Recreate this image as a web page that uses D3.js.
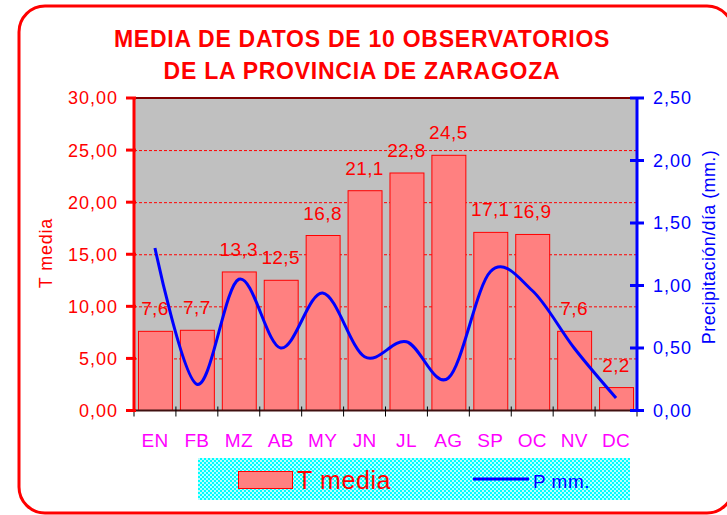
<!DOCTYPE html>
<meta charset="utf-8">
<html>
<head>
<title>Media de datos</title>
<style>
  body { margin: 0; background: #fff; }
  text { font-family: "Liberation Sans", Arial, sans-serif; }
</style>
<script src="https://cdn.jsdelivr.net/npm/d3@7"></script>
</head>
<body>
<script>
// data
var months = ["EN","FB","MZ","AB","MY","JN","JL","AG","SP","OC","NV","DC"]
var tMedia = [7.6, 7.7, 13.3, 12.5, 16.8, 21.1, 22.8, 24.5, 17.1, 16.9, 7.6, 2.2]
var precip = [1.30, 0.21, 1.05, 0.50, 0.94, 0.43, 0.55, 0.26, 1.11, 0.96, 0.50, 0.10]
var leftTicks = [0, 5, 10, 15, 20, 25, 30]
var rightTicks = [0, 0.5, 1, 1.5, 2, 2.5]

var W = 727, H = 515
var plot = {left: 134, right: 637, top: 98, bottom: 410.5}

var svg = d3.select("body").append("svg")
    .attr("width", W).attr("height", H)

var fmt = function(v){ return d3.format(".2f")(v).replace(".", ",") }

// outer rounded frame
svg.append("rect")
    .attr("x", 19).attr("y", 6)
    .attr("width", 714).attr("height", 507)
    .attr("rx", 26)
    .attr("fill", "none")
    .attr("stroke", "#ff0000")
    .attr("stroke-width", 3)

// title
var title = svg.append("text")
    .attr("text-anchor", "middle")
    .attr("fill", "#ff0000")
    .style("font-weight", "bold")
    .style("font-size", "23px")
    .style("letter-spacing", "0.75px")
title.append("tspan").attr("x", 362).attr("y", 47).text("MEDIA DE DATOS DE 10 OBSERVATORIOS")
title.append("tspan").attr("x", 362).attr("y", 78.5).text("DE LA PROVINCIA DE ZARAGOZA")

var x = d3.scaleBand().domain(months)
    .range([plot.left, plot.right])
    .paddingInner(0.19).paddingOuter(0.095)
var yL = d3.scaleLinear().domain([0, 30]).range([plot.bottom, plot.top])
var yR = d3.scaleLinear().domain([0, 2.5]).range([plot.bottom, plot.top])

// plot background
svg.append("rect")
    .attr("x", plot.left).attr("y", plot.top)
    .attr("width", plot.right - plot.left).attr("height", plot.bottom - plot.top)
    .attr("fill", "#c0c0c0")

// gridlines
svg.selectAll("line.grid")
    .data(leftTicks.filter(d => d > 0 && d < 30))
    .enter().append("line")
    .attr("class", "grid")
    .attr("x1", plot.left).attr("x2", plot.right)
    .attr("y1", d => yL(d) + 0.5).attr("y2", d => yL(d) + 0.5)
    .attr("stroke", "#ff0000")
    .attr("stroke-width", 1)
    .attr("stroke-dasharray", "3,2")

// bars
svg.selectAll("rect.bar")
    .data(tMedia)
    .enter().append("rect")
    .attr("class", "bar")
    .attr("x", (d,i) => x(months[i]) + 0.5)
    .attr("y", d => yL(d))
    .attr("width", x.bandwidth())
    .attr("height", d => plot.bottom - yL(d))
    .attr("fill", "#ff8080")
    .attr("stroke", "#ff0000")
    .attr("stroke-width", 1)

// value labels
svg.selectAll("text.val")
    .data(tMedia)
    .enter().append("text")
    .attr("class", "val")
    .attr("x", (d,i) => x(months[i]) + x.bandwidth()/2)
    .attr("y", d => yL(d) - 16)
    .attr("text-anchor", "middle")
    .attr("fill", "#ff0000")
    .style("font-size", "19px")
    .style("letter-spacing", "0.4px")
    .text(d => d3.format(".1f")(d).replace(".", ","))

// top and bottom frame lines
svg.append("line")
    .attr("x1", plot.left).attr("x2", plot.right)
    .attr("y1", plot.top).attr("y2", plot.top)
    .attr("stroke", "#800000").attr("stroke-width", 2)
svg.append("line")
    .attr("x1", plot.left).attr("x2", plot.right)
    .attr("y1", plot.bottom).attr("y2", plot.bottom)
    .attr("stroke", "#401010").attr("stroke-width", 2)

// category ticks
var bounds = d3.range(months.length + 1).map(i => plot.left + i * (plot.right - plot.left) / months.length)
svg.selectAll("line.xtick")
    .data(bounds)
    .enter().append("line")
    .attr("class", "xtick")
    .attr("x1", d => d).attr("x2", d => d)
    .attr("y1", plot.bottom - 4).attr("y2", plot.bottom + 6)
    .attr("stroke", "#000").attr("stroke-width", 1)

// category labels
svg.selectAll("text.cat")
    .data(months)
    .enter().append("text")
    .attr("class", "cat")
    .attr("x", d => x(d) + x.bandwidth()/2)
    .attr("y", 447)
    .attr("text-anchor", "middle")
    .attr("fill", "#ff00ff")
    .style("font-size", "19px")
    .style("letter-spacing", "0.3px")
    .text(d => d)

// precipitation line
var line = d3.line()
    .x((d,i) => x(months[i]) + x.bandwidth()/2)
    .y(d => yR(d))
    .curve(d3.curveCatmullRom.alpha(0))
svg.append("path")
    .datum(precip)
    .attr("d", line)
    .attr("fill", "none")
    .attr("stroke", "#0000ff")
    .attr("stroke-width", 3)

// left axis
var leftAxis = svg.append("g")
leftAxis.append("line")
    .attr("x1", plot.left).attr("x2", plot.left)
    .attr("y1", plot.top).attr("y2", plot.bottom)
    .attr("stroke", "#ff0000").attr("stroke-width", 3)
leftAxis.selectAll("line.lt")
    .data(leftTicks)
    .enter().append("line")
    .attr("class", "lt")
    .attr("x1", plot.left - 8).attr("x2", plot.left + 2)
    .attr("y1", d => yL(d)).attr("y2", d => yL(d))
    .attr("stroke", "#ff0000").attr("stroke-width", 3)
leftAxis.selectAll("text")
    .data(leftTicks)
    .enter().append("text")
    .attr("x", 118)
    .attr("y", d => yL(d))
    .attr("dy", "0.36em")
    .attr("text-anchor", "end")
    .attr("fill", "#ff0000")
    .style("font-size", "18px")
    .style("letter-spacing", "1px")
    .text(fmt)

// right axis
var rightAxis = svg.append("g")
rightAxis.append("line")
    .attr("x1", plot.right).attr("x2", plot.right)
    .attr("y1", plot.top).attr("y2", plot.bottom)
    .attr("stroke", "#0000ff").attr("stroke-width", 3)
rightAxis.selectAll("line.rt")
    .data(rightTicks)
    .enter().append("line")
    .attr("class", "rt")
    .attr("x1", plot.right - 7).attr("x2", plot.right + 7)
    .attr("y1", d => yR(d)).attr("y2", d => yR(d))
    .attr("stroke", "#0000ff").attr("stroke-width", 3)
rightAxis.selectAll("text")
    .data(rightTicks)
    .enter().append("text")
    .attr("x", 653)
    .attr("y", d => yR(d))
    .attr("dy", "0.36em")
    .attr("fill", "#0000ff")
    .style("font-size", "18px")
    .style("letter-spacing", "1px")
    .text(fmt)

// axis titles
svg.append("text")
    .attr("transform", "translate(52,253) rotate(-90)")
    .attr("text-anchor", "middle")
    .attr("fill", "#ff0000")
    .style("font-size", "18px")
    .style("letter-spacing", "0.8px")
    .text("T media")
svg.append("text")
    .attr("transform", "translate(715,247) rotate(-90)")
    .attr("text-anchor", "middle")
    .attr("fill", "#0000ff")
    .style("font-size", "18px")
    .style("letter-spacing", "0.4px")
    .text("Precipitación/día (mm.)")

// legend
var defs = svg.append("defs")
var pat = defs.append("pattern")
    .attr("id", "checker")
    .attr("width", 4).attr("height", 4)
    .attr("patternUnits", "userSpaceOnUse")
pat.append("rect").attr("width", 4).attr("height", 4).attr("fill", "#00ffff")
pat.append("rect").attr("width", 2).attr("height", 2).attr("fill", "#b8ffff")
pat.append("rect").attr("x", 2).attr("y", 2).attr("width", 2).attr("height", 2).attr("fill", "#b8ffff")

var legend = svg.append("g")
legend.append("rect")
    .attr("x", 198).attr("y", 458)
    .attr("width", 432).attr("height", 42)
    .attr("fill", "url(#checker)")
legend.append("rect")
    .attr("x", 238.5).attr("y", 471.5)
    .attr("width", 54).attr("height", 17)
    .attr("fill", "#ff8080")
    .attr("stroke", "#ff0000")
legend.append("text")
    .attr("x", 297).attr("y", 489)
    .attr("fill", "#ff0000")
    .style("font-size", "25px")
    .style("letter-spacing", "0.6px")
    .text("T media")
legend.append("line")
    .attr("x1", 473).attr("x2", 529)
    .attr("y1", 479).attr("y2", 479)
    .attr("stroke", "#0000ff").attr("stroke-width", 3)
legend.append("text")
    .attr("x", 533).attr("y", 488)
    .attr("fill", "#0000ff")
    .style("font-size", "19px")
    .style("letter-spacing", "0.5px")
    .text("P mm.")
</script>
</body>
</html>
